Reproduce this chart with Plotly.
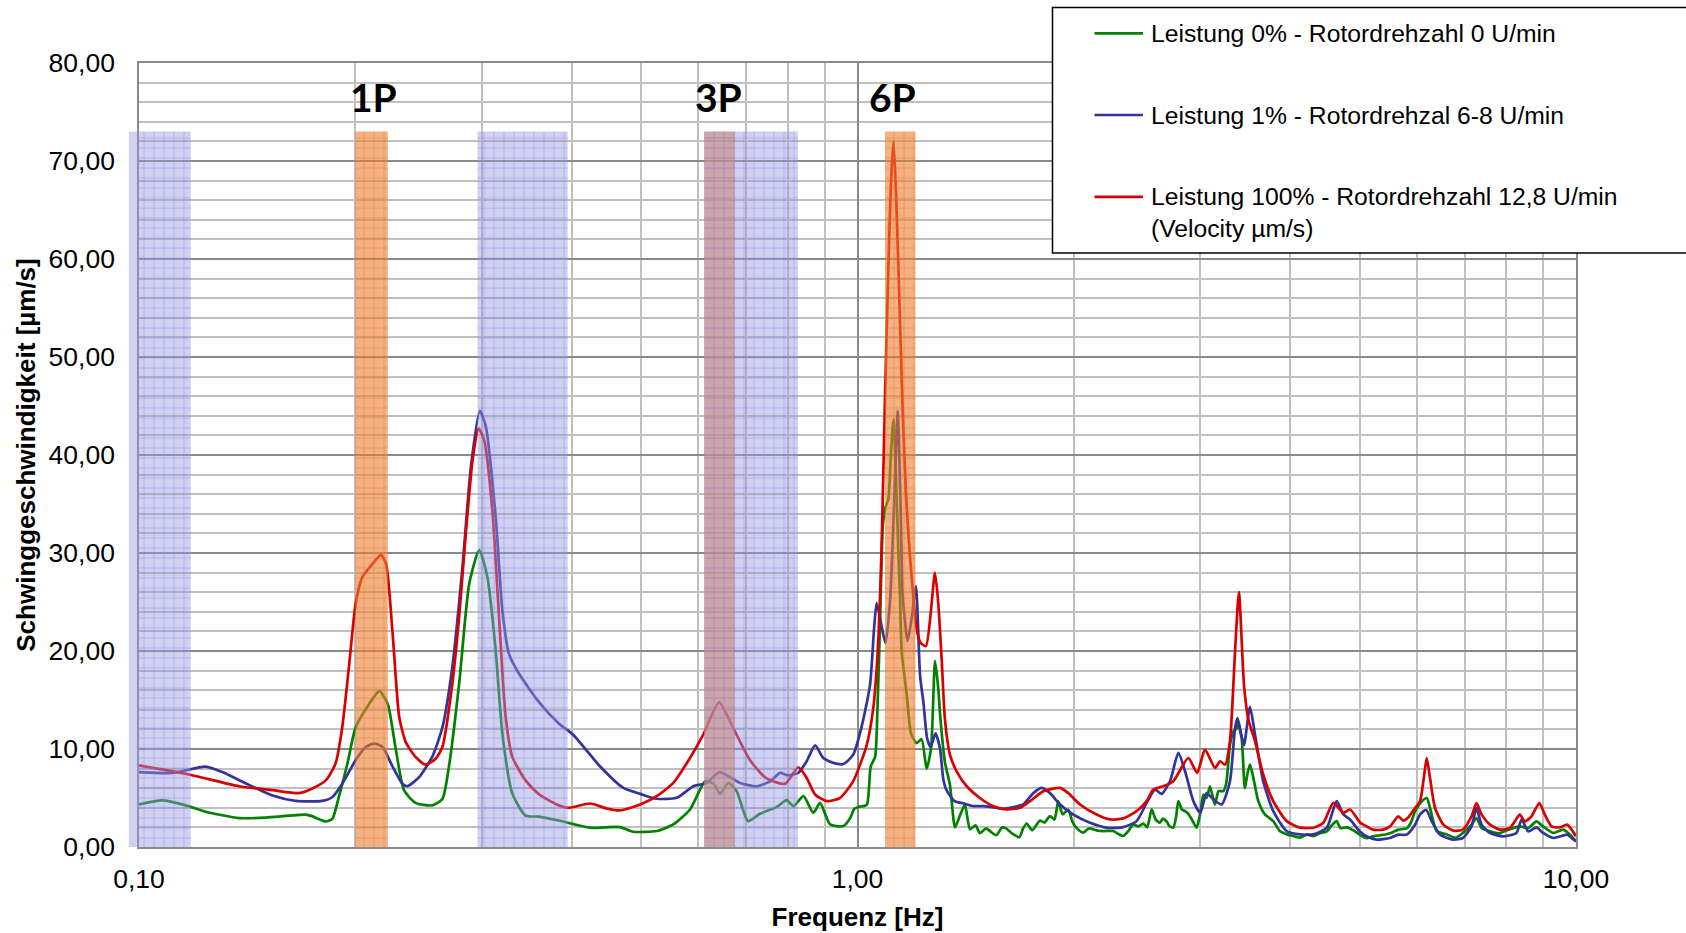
import numpy as np
import plotly.graph_objects as go

# ---------------- data ----------------
freq_0 = [0.100, 0.1078, 0.1161, 0.1238, 0.1378, 0.1501, 0.1706, 0.174, 0.182, 0.1859,
          0.1897, 0.1950, 0.2002, 0.2091, 0.2160, 0.2219, 0.2278, 0.2338, 0.2426, 0.2559,
          0.2644, 0.2700, 0.2790, 0.2882, 0.2975, 0.3054, 0.3136, 0.3204, 0.3308, 0.3452,
          0.3601, 0.3839, 0.4244, 0.467, 0.487, 0.5254, 0.5542, 0.5846, 0.614, 0.631,
          0.6437, 0.661, 0.679, 0.704, 0.7315, 0.7714, 0.797, 0.814, 0.841, 0.868,
          0.887, 0.916, 0.956, 0.976, 0.99, 1.005, 1.03, 1.043, 1.058, 1.066,
          1.075, 1.085, 1.095, 1.104, 1.113, 1.122, 1.131, 1.140, 1.146, 1.152,
          1.171, 1.187, 1.209, 1.228, 1.248, 1.266, 1.282, 1.296, 1.303, 1.323,
          1.345, 1.367, 1.39, 1.411, 1.434, 1.46, 1.48, 1.51, 1.53, 1.56,
          1.59, 1.61, 1.64, 1.68, 1.70, 1.72, 1.75, 1.795, 1.82, 1.853,
          1.88, 1.903, 1.93, 1.965, 1.99, 2.016, 2.06, 2.1, 2.15, 2.2,
          2.27, 2.31, 2.344, 2.38, 2.42, 2.46, 2.5, 2.53, 2.567, 2.6,
          2.636, 2.66, 2.693, 2.72, 2.751, 2.775, 2.796, 2.83, 2.857, 2.89,
          2.93, 2.965, 3.0, 3.03, 3.06, 3.094, 3.12, 3.145, 3.18, 3.23,
          3.26, 3.299, 3.335, 3.37, 3.385, 3.425, 3.46, 3.49, 3.518, 3.556,
          3.613, 3.69, 3.79, 3.87, 3.96, 4.05, 4.13, 4.22, 4.31, 4.4,
          4.5, 4.57, 4.644, 4.7, 4.8, 4.9, 5.0, 5.11, 5.22, 5.34,
          5.45, 5.51, 5.66, 5.81, 5.9, 5.97, 6.1, 6.198, 6.264, 6.4,
          6.6, 6.8, 6.98, 7.155, 7.27, 7.39, 7.59, 7.8, 8.05, 8.354,
          8.58, 8.81, 9.0, 9.3, 9.6, 9.86, 10.0]
v_0 = [4.35, 4.75, 4.25, 3.6, 2.95, 3.0, 3.3, 3.15, 2.6, 2.9,
       5.1, 8.5, 12.2, 14.6, 15.9, 14.6, 9.9, 5.8, 4.5, 4.25,
       4.9, 8.2, 16.7, 26.9, 30.3, 27.55, 20.1, 11.6, 5.45, 3.2,
       3.1, 2.7, 1.97, 2.03, 1.56, 1.63, 2.3, 3.83, 6.71, 6.44,
       5.42, 6.54, 5.7, 2.64, 3.39, 4.07, 4.78, 4.17, 5.19, 3.49,
       4.5, 2.3, 2.14, 2.9, 3.9, 4.1, 4.3, 8.2, 9.2, 14.0,
       23.0, 33.0, 34.8, 35.5, 40.0, 43.6, 38.0, 30.0, 25.5, 20.0,
       15.5, 11.6, 10.6, 11.0, 8.0, 10.1, 19.0, 16.0, 13.5, 8.7,
       6.3, 2.0, 3.3, 4.3, 1.8, 2.2, 1.4, 1.9, 1.6, 1.2,
       2.0, 1.9, 1.4, 1.0, 1.9, 2.4, 1.7, 2.7, 2.5, 3.15,
       2.8, 4.68, 3.32, 3.83, 2.6, 1.97, 1.46, 1.9, 1.7, 1.63,
       1.63, 1.3, 1.12, 1.6, 2.3, 2.1, 2.4, 2.0, 3.83, 2.8,
       2.47, 2.9, 2.6, 2.1, 1.97, 3.0, 4.68, 3.8, 3.66, 3.32,
       2.6, 1.97, 3.5, 5.36, 5.0, 6.2, 5.2, 4.34, 5.7, 5.7,
       6.5, 10.4, 11.8, 12.1, 12.6, 11.1, 6.0, 7.5, 8.4, 7.05,
       4.68, 3.32, 2.64, 1.63, 1.29, 1.1, 0.95, 1.3, 1.1, 1.4,
       1.6, 2.2, 2.64, 1.94, 2.0, 1.7, 1.26, 0.9, 1.1, 1.2,
       1.3, 1.4, 1.77, 1.9, 2.6, 3.64, 4.66, 5.0, 3.98, 1.6,
       1.3, 0.95, 1.5, 2.28, 2.96, 1.94, 1.6, 1.4, 1.77, 2.1,
       1.94, 2.62, 2.1, 1.43, 1.77, 1.09, 0.58]

freq_1 = [0.100, 0.1113, 0.1238, 0.1306, 0.1407, 0.1534, 0.1652, 0.1799, 0.1859, 0.1918,
          0.2002, 0.2069, 0.2126, 0.2183, 0.2254, 0.2326, 0.2363, 0.2452, 0.2559, 0.2644,
          0.2730, 0.2820, 0.2897, 0.2981, 0.3039, 0.3136, 0.3204, 0.3273, 0.3379, 0.3601,
          0.3839, 0.402, 0.438, 0.4722, 0.4984, 0.5254, 0.56, 0.591, 0.6168, 0.6418,
          0.665, 0.6863, 0.7239, 0.756, 0.78, 0.8, 0.827, 0.8497, 0.873, 0.896,
          0.925, 0.956, 0.986, 1.012, 1.041, 1.055, 1.0634, 1.0804, 1.094, 1.11,
          1.122, 1.132, 1.1376, 1.148, 1.155, 1.1645, 1.174, 1.19, 1.206, 1.222,
          1.235, 1.25, 1.264, 1.284, 1.303, 1.316, 1.33, 1.365, 1.404, 1.45,
          1.5, 1.561, 1.596, 1.648, 1.70, 1.757, 1.804, 1.853, 1.914, 1.995,
          2.107, 2.222, 2.344, 2.446, 2.526, 2.594, 2.65, 2.722, 2.796, 2.857,
          2.934, 3.0, 3.061, 3.128, 3.213, 3.299, 3.353, 3.38, 3.42, 3.451,
          3.518, 3.575, 3.67, 3.79, 3.956, 4.13, 4.31, 4.5, 4.644, 4.745,
          4.848, 5.0, 5.11, 5.28, 5.51, 5.659, 5.81, 5.97, 6.065, 6.185,
          6.3, 6.47, 6.75, 6.96, 7.155, 7.27, 7.39, 7.59, 7.92, 8.26,
          8.4, 8.58, 8.81, 9.0, 9.3, 9.72, 9.86, 10.0]
v_1 = [7.65, 7.55, 8.2, 7.65, 6.5, 5.25, 4.7, 4.7, 5.1, 6.45,
       8.85, 10.2, 10.55, 10.2, 8.2, 6.45, 6.2, 7.1, 9.2, 12.2,
       18.4, 28.6, 38.8, 44.5, 42.9, 33.7, 24.2, 19.7, 17.7, 14.8,
       12.6, 11.46, 8.24, 6.03, 5.42, 4.92, 5.02, 6.2, 6.54, 7.63,
       7.12, 6.54, 6.2, 6.7, 7.56, 7.32, 7.56, 8.75, 10.37, 9.08,
       8.58, 8.47, 9.4, 12.1, 16.55, 22.5, 24.9, 22.5, 20.8, 25.1,
       33.0, 41.0, 44.5, 35.0, 26.0, 23.0, 21.0, 23.4, 26.6, 17.5,
       14.8, 11.1, 10.2, 11.6, 10.0, 7.0, 5.8, 4.68, 4.45, 4.17,
       4.17, 4.0, 3.9, 4.07, 4.34, 5.5, 6.03, 5.5, 4.34, 3.32,
       2.47, 1.97, 2.03, 2.64, 4.5, 5.86, 5.42, 6.71, 9.6, 7.73,
       4.68, 3.49, 5.5, 4.85, 4.34, 6.71, 12.1, 13.15, 11.5, 10.4,
       14.3, 11.46, 6.71, 3.66, 1.63, 1.29, 1.29, 1.97, 4.68, 3.32,
       2.81, 1.6, 1.09, 0.75, 0.92, 1.26, 1.26, 2.28, 3.3, 3.8,
       2.62, 1.26, 0.75, 0.92, 2.1, 3.98, 2.28, 1.43, 1.09, 1.43,
       2.79, 1.6, 2.0, 1.43, 0.92, 1.26, 0.92, 0.58]

freq_100 = [0.100, 0.1174, 0.1378, 0.1534, 0.1670, 0.174, 0.182, 0.1877, 0.1918, 0.1960,
            0.2002, 0.2046, 0.2114, 0.2171, 0.2207, 0.2254, 0.2302, 0.2351, 0.2426, 0.2506,
            0.2587, 0.2644, 0.2730, 0.2790, 0.2850, 0.2913, 0.2969, 0.3023, 0.3103, 0.3170,
            0.3238, 0.3308, 0.3452, 0.3601, 0.3814, 0.396, 0.4244, 0.4476, 0.467, 0.4984,
            0.5254, 0.5542, 0.5846, 0.61, 0.6418, 0.6718, 0.708, 0.7455, 0.793, 0.827,
            0.8497, 0.873, 0.906, 0.9454, 0.986, 1.03, 1.052, 1.063, 1.07, 1.08,
            1.092, 1.104, 1.113, 1.122, 1.131, 1.14, 1.1546, 1.168, 1.183, 1.196,
            1.209, 1.225, 1.245, 1.265, 1.2817, 1.295, 1.31, 1.323, 1.345, 1.3745,
            1.419, 1.48, 1.545, 1.613, 1.684, 1.738, 1.814, 1.914, 1.965, 2.04,
            2.152, 2.246, 2.344, 2.446, 2.526, 2.58, 2.665, 2.751, 2.887, 2.97,
            3.045, 3.145, 3.196, 3.247, 3.299, 3.353, 3.395, 3.451, 3.50, 3.575,
            3.67, 3.79, 3.956, 4.13, 4.31, 4.45, 4.595, 4.745, 4.848, 5.005,
            5.06, 5.22, 5.39, 5.51, 5.659, 5.75, 5.84, 5.97, 6.065, 6.14,
            6.198, 6.264, 6.365, 6.538, 6.75, 6.96, 7.155, 7.27, 7.39, 7.59,
            7.83, 8.09, 8.22, 8.354, 8.49, 8.67, 8.892, 9.05, 9.25, 9.5,
            9.72, 9.86, 10.0]
v_100 = [8.33, 7.4, 6.2, 5.8, 5.5, 5.95, 6.8, 8.5, 12.2, 18.4,
         24.8, 27.55, 28.9, 29.8, 28.9, 21.8, 13.3, 10.7, 9.2, 8.4,
         9.0, 10.2, 16.7, 23.5, 32.0, 39.5, 42.7, 41.5, 34.4, 23.5,
         13.3, 9.2, 6.8, 5.4, 4.34, 4.0, 4.44, 3.93, 3.73, 4.34,
         5.19, 6.54, 9.08, 11.46, 14.75, 12.1, 8.9, 7.05, 6.44, 8.14,
         7.05, 5.36, 4.68, 5.0, 6.7, 10.4, 14.2, 18.0, 21.7, 30.2,
         45.6, 59.2, 67.5, 72.0, 67.0, 59.2, 45.6, 36.0, 29.7, 25.5,
         22.2, 20.8, 20.5, 24.0, 28.0, 25.0, 19.0, 13.15, 9.4, 7.7,
         6.2, 5.0, 4.17, 3.83, 4.0, 4.68, 5.7, 6.03, 5.5, 4.34,
         3.32, 2.81, 2.92, 3.66, 4.68, 5.86, 6.2, 6.71, 9.08, 7.56,
         9.93, 8.07, 8.75, 8.4, 10.8, 19.9, 26.0, 16.5, 13.0, 10.8,
         7.4, 4.68, 2.64, 1.97, 1.97, 2.47, 4.5, 3.49, 3.83, 2.5,
         2.28, 1.77, 1.77, 2.1, 3.13, 2.69, 3.0, 3.98, 4.66, 7.04,
         9.08, 7.04, 3.98, 2.28, 1.67, 1.77, 3.13, 4.49, 3.3, 2.28,
         1.77, 1.94, 2.62, 3.3, 2.62, 3.13, 4.49, 3.3, 2.1, 2.0,
         2.28, 1.77, 1.09]

series_names = ["Leistung 0% - Rotordrehzahl 0 U/min",
                "Leistung 1% - Rotordrehzal 6-8 U/min",
                "Leistung 100% - Rotordrehzahl 12,8 U/min"]
legend_extra = "(Velocity µm/s)"

# highlighted frequency bands [Hz]
band_lo = [0.0968, 0.200, 0.296, 0.612, 0.612, 1.092]
band_hi = [0.118, 0.222, 0.395, 0.675, 0.826, 1.204]
band_kind = ["blue", "orange", "blue", "orange", "blue", "orange"]
band_top = 73.0

harmonic_labels = ["1P", "3P", "6P"]
harmonic_freq = [0.2117, 0.640, 1.119]

x_major = [0.1, 1, 10]
x_minor = [0.2, 0.3, 0.4, 0.5, 0.6, 0.7, 0.8, 0.9, 2, 3, 4, 5, 6, 7, 8, 9]

# ---------------- styling ----------------
W, H = 1686, 933
ML, MR, MT, MB = 139, 110, 63, 86
PW, PH = W - ML - MR, H - MT - MB

COLORS = ["#008200", "#333399", "#DA0000"]
FONT = "Liberation Sans, Arial, sans-serif"
GRID_MAJOR = "#8A8A8A"
GRID_MINOR = "#C0C0C0"

BAND_STYLE = {
    "blue": dict(bg="rgba(150,150,225,0.45)", fg="rgb(120,120,225)", fgop=0.55),
    "orange": dict(bg="rgba(237,125,49,0.60)", fg="rgb(225,110,25)", fgop=0.6),
}


def px_x(X):
    return (X - ML) / PW


def px_y(Y):
    return (H - MB - Y) / PH


fig = go.Figure()

for f, v, name, col in zip([freq_0, freq_1, freq_100], [v_0, v_1, v_100], series_names, COLORS):
    fig.add_trace(go.Scatter(x=f, y=v, mode="lines", name=name, showlegend=False,
                             line=dict(color=col, width=2.7, shape="spline", smoothing=0.6)))

# draw orange bands first, blue bands over them (as in the reference overlap)
order = [i for i, k in enumerate(band_kind) if k == "orange"] + \
        [i for i, k in enumerate(band_kind) if k == "blue"]
for i in order:
    st = BAND_STYLE[band_kind[i]]
    fig.add_trace(go.Scatter(
        x=[band_lo[i], band_hi[i], band_hi[i], band_lo[i], band_lo[i]],
        y=[0, 0, band_top, band_top, 0],
        mode="lines", line=dict(width=0), fill="toself",
        fillcolor=st["bg"],
        fillpattern=dict(shape="+", size=10, solidity=0.12, bgcolor=st["bg"],
                         fgcolor=st["fg"], fgopacity=st["fgop"]),
        hoverinfo="skip", showlegend=False))

shapes = []
# part of the first band that reaches left of the axis
shapes.append(dict(type="rect", xref="paper", yref="paper",
                   x0=(np.log10(band_lo[0]) + 1) / 2, x1=0, y0=0, y1=band_top / 80,
                   fillcolor=BAND_STYLE["blue"]["bg"], line=dict(width=0), layer="above"))

# manual legend box
shapes.append(dict(type="rect", xref="paper", yref="paper",
                   x0=px_x(1052.5), x1=px_x(1720), y0=px_y(253), y1=px_y(7.5),
                   fillcolor="white", line=dict(color="black", width=1.5), layer="above"))
leg_y = [33.3, 115.0, 196.8]
annotations = []
for yy, col, name in zip(leg_y, COLORS, series_names):
    shapes.append(dict(type="line", xref="paper", yref="paper",
                       x0=px_x(1094.5), x1=px_x(1143), y0=px_y(yy), y1=px_y(yy),
                       line=dict(color=col, width=2.7), layer="above"))
    annotations.append(dict(xref="paper", yref="paper", x=px_x(1149), y=px_y(yy),
                            xanchor="left", yanchor="middle", text=name, showarrow=False,
                            font=dict(family=FONT, size=24.7, color="black")))
annotations.append(dict(xref="paper", yref="paper", x=px_x(1149), y=px_y(228.5),
                        xanchor="left", yanchor="middle", text=legend_extra, showarrow=False,
                        font=dict(family=FONT, size=24.7, color="black")))

for lab, fq in zip(harmonic_labels, harmonic_freq):
    annotations.append(dict(xref="x", yref="y", x=np.log10(fq), y=76.5, text="<b>%s</b>" % lab,
                            showarrow=False, xanchor="center", yanchor="middle",
                            font=dict(family="Lato, Open Sans, sans-serif", size=39, color="black")))

fig.update_layout(
    template="none",
    width=W, height=H,
    margin=dict(l=ML, r=MR, t=MT, b=MB, pad=0, autoexpand=False),
    paper_bgcolor="white", plot_bgcolor="white",
    separators=",.",
    showlegend=False,
    shapes=shapes,
    annotations=annotations,
    font=dict(family=FONT, color="black"),
)

fig.update_xaxes(
    type="log", range=[-1, 1],
    tickmode="array", tickvals=x_major, tickformat=".2f",
    ticks="", ticklabelstandoff=7,
    tickfont=dict(family=FONT, size=26.5, color="black"),
    showgrid=True, gridcolor=GRID_MAJOR, gridwidth=1.5,
    minor=dict(tickmode="array", tickvals=x_minor, showgrid=True, gridcolor=GRID_MINOR,
               gridwidth=1.5, ticks=""),
    showline=True, mirror=True, linecolor=GRID_MAJOR, linewidth=1.5,
    zeroline=False, automargin=False,
    title=dict(text="<b>Frequenz [Hz]</b>", standoff=15,
               font=dict(family=FONT, size=26, color="black")),
)
fig.update_yaxes(
    range=[0, 80], tickmode="linear", tick0=0, dtick=10, tickformat=".2f",
    ticks="", ticklabelstandoff=17,
    tickfont=dict(family=FONT, size=26.5, color="black"),
    showgrid=True, gridcolor=GRID_MAJOR, gridwidth=1.5,
    minor=dict(dtick=2, showgrid=True, gridcolor=GRID_MINOR, gridwidth=1.5, ticks=""),
    showline=True, mirror=True, linecolor=GRID_MAJOR, linewidth=1.5,
    zeroline=False, automargin=False,
    title=dict(text="<b>Schwinggeschwindigkeit [µm/s]</b>", standoff=6,
               font=dict(family=FONT, size=26, color="black")),
)

fig.write_html("out.html")
